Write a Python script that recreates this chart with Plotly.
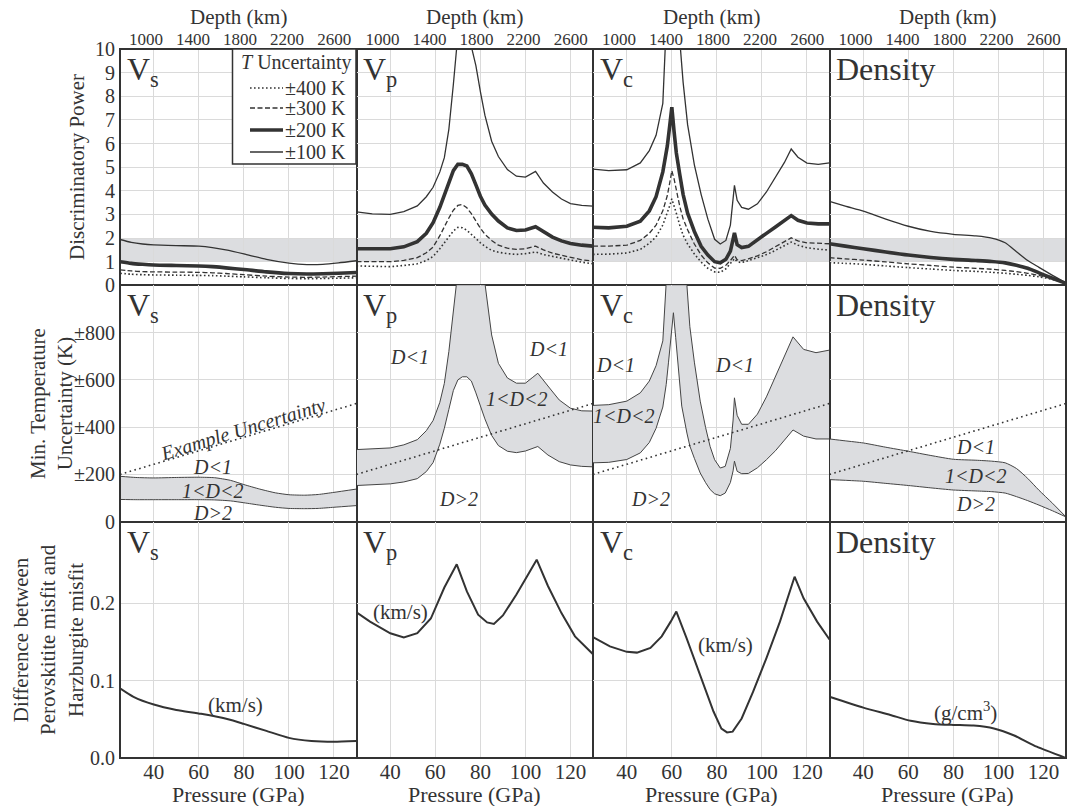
import plotly.graph_objects as go
from plotly.subplots import make_subplots

# ---------------- data ----------------
P_TICKS = [40, 60, 80, 100, 120]
DEPTH_TICKS = [1000, 1400, 1800, 2200, 2600]
T_LEGEND = ["±400 K", "±300 K", "±200 K", "±100 K"]

# Top row: discriminatory power
P_VS_TOP = [25, 30, 35, 40, 50, 60, 66, 72, 80, 90, 100, 108, 115, 122, 130]
DP_VS_100 = [1.94, 1.82, 1.75, 1.71, 1.68, 1.66, 1.60, 1.50, 1.33, 1.10, 0.94, 0.88, 0.89, 0.95, 1.04]
DP_VS_200 = [1.00, 0.93, 0.89, 0.86, 0.84, 0.82, 0.79, 0.74, 0.67, 0.57, 0.50, 0.48, 0.49, 0.51, 0.54]
DP_VS_300 = [0.65, 0.61, 0.58, 0.57, 0.56, 0.55, 0.53, 0.50, 0.45, 0.39, 0.35, 0.34, 0.35, 0.37, 0.39]
DP_VS_400 = [0.51, 0.47, 0.45, 0.44, 0.43, 0.42, 0.41, 0.39, 0.36, 0.32, 0.29, 0.28, 0.29, 0.30, 0.32]

P_VP_TOP = [25, 32, 40, 46, 52, 56, 59, 62, 64, 66, 68, 70, 72, 74, 76, 78, 80, 82, 85, 88, 92, 96, 100, 104.5, 108, 112, 116, 120, 125, 130]
DP_VP_100 = [3.11, 3.02, 3.00, 3.12, 3.36, 3.75, 4.15, 4.80, 5.40, 6.60, 8.50, 10.6, 11.2, 10.9, 10.1, 9.3, 8.2, 7.2, 6.1, 5.45, 4.90, 4.62, 4.58, 4.82, 4.33, 3.95, 3.65, 3.46, 3.38, 3.35]
DP_VP_200 = [1.55, 1.54, 1.55, 1.63, 1.85, 2.20, 2.65, 3.30, 3.85, 4.35, 4.85, 5.12, 5.12, 5.05, 4.72, 4.25, 3.77, 3.40, 3.02, 2.72, 2.43, 2.32, 2.34, 2.48, 2.27, 2.04, 1.88, 1.77, 1.70, 1.66]
DP_VP_300 = [1.00, 0.99, 1.00, 1.06, 1.17, 1.38, 1.62, 2.10, 2.50, 2.85, 3.18, 3.38, 3.42, 3.28, 3.03, 2.70, 2.42, 2.16, 1.90, 1.70, 1.57, 1.52, 1.55, 1.66, 1.50, 1.36, 1.27, 1.17, 1.08, 1.03]
DP_VP_400 = [0.82, 0.80, 0.79, 0.84, 0.91, 1.05, 1.22, 1.55, 1.80, 2.05, 2.30, 2.45, 2.44, 2.33, 2.17, 1.98, 1.80, 1.65, 1.48, 1.40, 1.34, 1.31, 1.34, 1.41, 1.30, 1.22, 1.14, 1.07, 0.98, 0.91]

P_VC_TOP = [25, 32, 40, 46, 50, 53, 56, 58, 59, 60, 61, 62, 63.5, 65, 67, 70, 73, 76, 79, 81.5, 84, 86, 87.2, 87.8, 89, 91, 94, 98, 102, 106, 110, 113, 116, 120, 125, 130]
DP_VC_100 = [4.92, 4.85, 4.89, 5.18, 5.70, 6.35, 7.70, 11.0, 14.0, 16.5, 16.0, 13.5, 10.4, 8.6, 6.8, 5.1, 3.85, 2.80, 1.95, 1.75, 1.90, 2.55, 3.60, 4.23, 3.60, 3.30, 3.22, 3.45, 3.95, 4.55, 5.20, 5.77, 5.42, 5.17, 5.12, 5.18]
DP_VC_200 = [2.46, 2.43, 2.50, 2.71, 3.15, 3.75, 4.80, 5.90, 6.70, 7.54, 6.50, 5.60, 4.70, 3.85, 3.05, 2.28, 1.65, 1.28, 1.00, 0.95, 1.10, 1.45, 1.95, 2.22, 1.72, 1.60, 1.65, 1.94, 2.20, 2.47, 2.75, 2.95, 2.75, 2.64, 2.60, 2.60]
DP_VC_300 = [1.66, 1.66, 1.70, 1.90, 2.20, 2.55, 3.15, 3.80, 4.30, 4.85, 4.50, 4.00, 3.35, 2.82, 2.35, 1.75, 1.28, 0.95, 0.73, 0.72, 0.85, 1.05, 1.22, 1.27, 1.08, 1.05, 1.12, 1.25, 1.42, 1.62, 1.85, 2.01, 1.88, 1.80, 1.77, 1.76]
DP_VC_400 = [1.31, 1.32, 1.37, 1.52, 1.78, 2.05, 2.55, 3.05, 3.35, 3.66, 3.40, 3.05, 2.55, 2.12, 1.75, 1.33, 0.98, 0.72, 0.57, 0.55, 0.70, 0.92, 1.08, 1.13, 1.00, 0.96, 1.05, 1.17, 1.30, 1.48, 1.66, 1.83, 1.70, 1.59, 1.53, 1.49]

P_RHO_TOP = [25, 32, 40, 50, 60, 70, 80, 90, 97, 103, 108, 113, 118, 124, 130]
DP_RHO_100 = [3.55, 3.35, 3.14, 2.80, 2.50, 2.28, 2.16, 2.09, 2.00, 1.80, 1.42, 1.05, 0.76, 0.42, 0.10]
DP_RHO_200 = [1.76, 1.66, 1.55, 1.41, 1.28, 1.18, 1.10, 1.05, 1.01, 0.95, 0.85, 0.72, 0.53, 0.30, 0.08]
DP_RHO_300 = [1.17, 1.12, 1.07, 0.99, 0.91, 0.84, 0.77, 0.72, 0.68, 0.63, 0.58, 0.51, 0.42, 0.28, 0.10]
DP_RHO_400 = [0.96, 0.93, 0.89, 0.82, 0.75, 0.69, 0.63, 0.59, 0.55, 0.51, 0.47, 0.42, 0.36, 0.25, 0.10]

# Middle row: minimum temperature uncertainty (K) for D = 1 and D = 2
P_VS_MID = [25, 32, 40, 50, 60, 67, 74, 80, 87, 94, 100, 107, 113, 120, 130]
TU_VS_D1 = [192, 187, 185, 187, 188, 186, 175, 157, 138, 122, 114, 112, 115, 124, 138]
TU_VS_D2 = [94, 93, 93, 93, 93, 92, 88, 80, 70, 61, 56, 55, 56, 61, 68]

P_VP_MID = [25, 32, 40, 46, 52, 56, 59, 62, 64, 66, 68, 70, 72, 74, 76, 78, 80, 82, 85, 88, 92, 96, 100, 103, 105.5, 110, 115, 120, 125, 130]
TU_VP_D1 = [305, 308, 312, 325, 347, 385, 428, 505, 585, 720, 880, 1060, 1150, 1180, 1170, 1130, 1080, 1010, 790, 670, 608, 586, 586, 609, 628, 574, 515, 480, 469, 468]
TU_VP_D2 = [153, 156, 160, 168, 182, 212, 250, 328, 395, 475, 555, 600, 613, 613, 595, 545, 488, 435, 365, 322, 298, 292, 299, 308, 318, 282, 254, 240, 234, 232]

P_VC_MID = [25, 32, 40, 46, 50, 53, 56, 57.5, 58.5, 59.5, 60.7, 61.7, 62.7, 64.4, 66.7, 68, 70, 72.6, 75, 77, 79, 81.5, 83.7, 86, 87.2, 87.8, 89, 91, 94, 98, 102, 106, 110, 113.8, 118.5, 124, 130]
TU_VC_D1 = [492, 495, 510, 545, 595, 660, 765, 1000, 1250, 1500, 1700, 1700, 1550, 1250, 1000, 825, 675, 510, 398, 318, 262, 227, 234, 310, 430, 524, 450, 412, 412, 455, 528, 612, 700, 782, 729, 715, 726]
TU_VC_D2 = [249, 251, 263, 291, 335, 395, 485, 580, 672, 770, 884, 780, 680, 489, 375, 320, 268, 206, 165, 136, 118, 110, 121, 166, 215, 256, 213, 203, 204, 228, 262, 300, 345, 388, 362, 350, 350]

P_RHO_MID = [25, 32, 40, 50, 60, 70, 80, 90, 97, 103, 108, 113, 118, 124, 130]
TU_RHO_D1 = [350, 342, 333, 315, 298, 280, 264, 260, 256, 249, 225, 183, 133, 78, 20]
TU_RHO_D2 = [178, 175, 171, 162, 153, 143, 134, 130, 127, 121, 106, 89, 70, 46, 20]

EX_P = [25, 130]
EX_T = [200, 500]

# Bottom row: misfit difference
P_VS_BOT = [25, 31, 40, 50, 61, 73, 80, 90, 100, 110, 120, 130]
MF_VS = [0.090, 0.079, 0.069, 0.062, 0.057, 0.050, 0.044, 0.035, 0.026, 0.022, 0.021, 0.022]
P_VP_BOT = [25, 31, 40, 46, 52, 58, 64, 69.5, 74, 79, 83, 86, 90, 96, 101, 105, 110, 116, 122, 130]
MF_VP = [0.188, 0.176, 0.161, 0.1555, 0.161, 0.180, 0.220, 0.250, 0.215, 0.185, 0.175, 0.173, 0.184, 0.211, 0.236, 0.256, 0.222, 0.187, 0.157, 0.134]
P_VC_BOT = [25, 32.5, 40, 44.5, 50.5, 55.5, 59.5, 62, 66.5, 72.5, 78.5, 82, 84.5, 87, 91, 96, 102, 108, 114.5, 118.5, 124.5, 130]
MF_VC = [0.156, 0.144, 0.137, 0.136, 0.142, 0.157, 0.176, 0.189, 0.155, 0.107, 0.060, 0.038, 0.033, 0.034, 0.051, 0.085, 0.129, 0.176, 0.234, 0.206, 0.176, 0.153]
P_RHO_BOT = [25, 40, 52, 61, 71, 80, 89, 98, 107, 117, 130]
MF_RHO = [0.079, 0.065, 0.0556, 0.048, 0.044, 0.0427, 0.0418, 0.038, 0.029, 0.0146, 0.0]

PANEL_LABELS = ["V<sub>s</sub>", "V<sub>p</sub>", "V<sub>c</sub>", "Density"]
UNIT_LABELS = ["(km/s)", "(km/s)", "(km/s)", "(g/cm<sup>3</sup>)"]

# ---------------- styling ----------------
FONT = "Liberation Serif, Times New Roman, Times, serif"
INK = "#333333"
GRID = "#dadada"
BAND = "#dcdde0"

# plot area in pixels: x 120..1066, y 49..758
def px_x(x):
    return (x - 120) / 946.0

def px_y(y):
    return (758 - y) / 709.0

fig = make_subplots(rows=3, cols=4, horizontal_spacing=0, vertical_spacing=0)

top_sets = [
    (P_VS_TOP, [DP_VS_400, DP_VS_300, DP_VS_200, DP_VS_100], "spline"),
    (P_VP_TOP, [DP_VP_400, DP_VP_300, DP_VP_200, DP_VP_100], "linear"),
    (P_VC_TOP, [DP_VC_400, DP_VC_300, DP_VC_200, DP_VC_100], "linear"),
    (P_RHO_TOP, [DP_RHO_400, DP_RHO_300, DP_RHO_200, DP_RHO_100], "spline"),
]
line_styles = [
    dict(color=INK, width=1.6, dash="1.6px,2.4px"),
    dict(color=INK, width=1.3, dash="5px,2.5px"),
    dict(color=INK, width=3.6),
    dict(color=INK, width=1.3),
]
for c, (px, series, shape) in enumerate(top_sets, start=1):
    for k, ys in enumerate(series):
        fig.add_trace(go.Scatter(x=px, y=ys, mode="lines", name=T_LEGEND[k],
                                 line=dict(shape=shape, smoothing=0.6, **line_styles[k]),
                                 showlegend=False, hoverinfo="skip"), row=1, col=c)

mid_sets = [
    (P_VS_MID, TU_VS_D1, TU_VS_D2, "spline"),
    (P_VP_MID, TU_VP_D1, TU_VP_D2, "linear"),
    (P_VC_MID, TU_VC_D1, TU_VC_D2, "linear"),
    (P_RHO_MID, TU_RHO_D1, TU_RHO_D2, "spline"),
]
for c, (px, up, lo, shape) in enumerate(mid_sets, start=1):
    fig.add_trace(go.Scatter(x=px, y=lo, mode="lines",
                             line=dict(color="#444444", width=1, shape=shape, smoothing=0.6),
                             showlegend=False, hoverinfo="skip"), row=2, col=c)
    fig.add_trace(go.Scatter(x=px, y=up, mode="lines", fill="tonexty", fillcolor=BAND,
                             line=dict(color="#444444", width=1, shape=shape, smoothing=0.6),
                             showlegend=False, hoverinfo="skip"), row=2, col=c)
    fig.add_trace(go.Scatter(x=EX_P, y=EX_T, mode="lines",
                             line=dict(color=INK, width=1.6, dash="1.6px,3.4px"),
                             showlegend=False, hoverinfo="skip"), row=2, col=c)

bot_sets = [
    (P_VS_BOT, MF_VS, "spline"),
    (P_VP_BOT, MF_VP, "linear"),
    (P_VC_BOT, MF_VC, "linear"),
    (P_RHO_BOT, MF_RHO, "spline"),
]
for c, (px, ys, shape) in enumerate(bot_sets, start=1):
    fig.add_trace(go.Scatter(x=px, y=ys, mode="lines",
                             line=dict(color=INK, width=2, shape=shape, smoothing=0.6),
                             showlegend=False, hoverinfo="skip"), row=3, col=c)

# axes
for r in (1, 2, 3):
    for c in (1, 2, 3, 4):
        fig.update_xaxes(range=[25, 130], tickvals=P_TICKS, showticklabels=(r == 3),
                         showgrid=True, gridcolor=GRID, gridwidth=1, zeroline=False,
                         showline=True, mirror=True, linecolor=INK, linewidth=1.1, ticks="",
                         ticklabelstandoff=-5,
                         tickfont=dict(size=21, color=INK, family=FONT), row=r, col=c)
        common_y = dict(showgrid=True, gridcolor=GRID, gridwidth=1, zeroline=False,
                        showline=True, mirror=True, linecolor=INK, linewidth=1.1, ticks="",
                        showticklabels=(c == 1), tickfont=dict(size=20, color=INK, family=FONT))
        if r == 1:
            fig.update_yaxes(range=[0, 10], tickvals=list(range(0, 11)), row=r, col=c, **common_y)
        elif r == 2:
            fig.update_yaxes(range=[0, 1000], tickvals=[0, 200, 400, 600, 800],
                             ticktext=["0", "±200", "±400", "±600", "±800"], row=r, col=c, **common_y)
        else:
            fig.update_yaxes(range=[0, 0.305], tickvals=[0, 0.1, 0.2],
                             ticktext=["0.0", "0.1", "0.2"], row=r, col=c, **common_y)

shapes = []
# gray band D between 1 and 2 in top row
for c in (1, 2, 3, 4):
    xr = "x" if c == 1 else f"x{c}"
    yr = "y" if c == 1 else f"y{c}"
    shapes.append(dict(type="rect", xref=f"{xr} domain", yref=yr, x0=0, x1=1, y0=1, y1=2,
                       fillcolor=BAND, line_width=0, layer="below"))
# outer frame
shapes.append(dict(type="rect", xref="paper", yref="paper", x0=0, x1=1, y0=0, y1=1,
                   line=dict(color=INK, width=2), fillcolor="rgba(0,0,0,0)", layer="above"))

# depth axes on top
for c in (1, 2, 3, 4):
    base = "x" if c == 1 else f"x{c}"
    yb = "y" if c == 1 else f"y{c}"
    n = 12 + c
    fig.update_layout(**{f"xaxis{n}": dict(overlaying=base, side="top", anchor=yb,
                                           domain=[(c - 1) / 4, c / 4],
                                           range=[780, 2790], tickvals=DEPTH_TICKS, showgrid=False,
                                           zeroline=False, showline=False, ticks="",
                                           tickfont=dict(size=17, color=INK, family=FONT))})
    fig.add_trace(go.Scatter(x=DEPTH_TICKS, y=[None] * len(DEPTH_TICKS), xaxis=f"x{n}", yaxis=yb,
                             mode="lines", showlegend=False, hoverinfo="skip"))

ann = []
# panel labels
for r in (1, 2, 3):
    for c in (1, 2, 3, 4):
        idx = (r - 1) * 4 + c
        xr = "x" if idx == 1 else f"x{idx}"
        yr = "y" if idx == 1 else f"y{idx}"
        ann.append(dict(text=PANEL_LABELS[c - 1], xref=f"{xr} domain", yref=f"{yr} domain",
                        x=0.02, y=1.0, xanchor="left", yanchor="top", showarrow=False,
                        font=dict(size=32, color=INK, family=FONT)))
# axis titles
for c in (1, 2, 3, 4):
    ann.append(dict(text="Depth (km)", xref="paper", yref="paper", x=(c - 0.5) / 4, y=px_y(17),
                    xanchor="center", yanchor="middle", showarrow=False,
                    font=dict(size=21, color=INK, family=FONT)))
    ann.append(dict(text="Pressure (GPa)", xref="paper", yref="paper", x=(c - 0.5) / 4, y=px_y(794),
                    xanchor="center", yanchor="middle", showarrow=False,
                    font=dict(size=22, color=INK, family=FONT)))
ann.append(dict(text="Discriminatory Power", xref="paper", yref="paper", x=px_x(77), y=px_y(167),
                textangle=-90, xanchor="center", yanchor="middle", showarrow=False,
                font=dict(size=21, color=INK, family=FONT)))
ann.append(dict(text="Min. Temperature<br>Uncertainty (K)", xref="paper", yref="paper",
                x=px_x(51), y=px_y(404),
                textangle=-90, xanchor="center", yanchor="middle", showarrow=False,
                font=dict(size=21, color=INK, family=FONT)))
ann.append(dict(text="Difference between<br>Perovskitite misfit and<br>Harzburgite misfit",
                xref="paper", yref="paper", x=px_x(48), y=px_y(640),
                textangle=-90, xanchor="center", yanchor="middle", showarrow=False,
                font=dict(size=21, color=INK, family=FONT)))

# middle row text
mid_text = [
    (5, "<i>Example Uncertainty</i>", 79.4, 392, -17),
    (5, "<i>D&lt;1</i>", 66.1, 233, 0),
    (5, "<i>1&lt;D&lt;2</i>", 66.1, 131, 0),
    (5, "<i>D&gt;2</i>", 66.1, 38, 0),
    (6, "<i>D&lt;1</i>", 48.6, 695, 0),
    (6, "<i>D&lt;1</i>", 110.3, 729, 0),
    (6, "<i>1&lt;D&lt;2</i>", 96.1, 517, 0),
    (6, "<i>D&gt;2</i>", 70.3, 97, 0),
    (7, "<i>D&lt;1</i>", 35.0, 665, 0),
    (7, "<i>D&lt;1</i>", 87.9, 665, 0),
    (7, "<i>1&lt;D&lt;2</i>", 38.6, 449, 0),
    (7, "<i>D&gt;2</i>", 50.6, 97, 0),
    (8, "<i>D&lt;1</i>", 89.9, 318, 0),
    (8, "<i>1&lt;D&lt;2</i>", 89.9, 195, 0),
    (8, "<i>D&gt;2</i>", 89.9, 76, 0),
]
for idx, t, x, y, ang in mid_text:
    ann.append(dict(text=t, xref=f"x{idx}", yref=f"y{idx}", x=x, y=y, textangle=ang,
                    xanchor="center", yanchor="middle", showarrow=False,
                    font=dict(size=20, color=INK, family=FONT)))
unit_pos = [(76.3, 0.0685), (44.6, 0.189), (83.9, 0.146), (85.4, 0.0594)]
for c, (x, y) in enumerate(unit_pos, start=1):
    idx = 8 + c
    ann.append(dict(text=UNIT_LABELS[c - 1], xref=f"x{idx}", yref=f"y{idx}", x=x, y=y,
                    xanchor="center", yanchor="middle", showarrow=False,
                    font=dict(size=21, color=INK, family=FONT)))

# hand-drawn legend box in the Vs discriminatory-power panel
shapes.append(dict(type="rect", xref="paper", yref="paper", x0=px_x(232.5), x1=px_x(356),
                   y0=px_y(164), y1=px_y(49), fillcolor="white",
                   line=dict(color=INK, width=1.5), layer="above"))
ann.append(dict(text="<i>T</i> Uncertainty", xref="paper", yref="paper", x=px_x(296), y=px_y(63),
                xanchor="center", yanchor="middle", showarrow=False,
                font=dict(size=20, color=INK, family=FONT)))
leg_rows = [88, 108, 130, 152]
for k, yy in enumerate(leg_rows):
    st = line_styles[k]
    shapes.append(dict(type="line", xref="paper", yref="paper", x0=px_x(250), x1=px_x(283),
                       y0=px_y(yy), y1=px_y(yy),
                       line=dict(color=st["color"], width=st["width"], dash=st.get("dash", "solid")),
                       layer="above"))
    ann.append(dict(text=T_LEGEND[k], xref="paper", yref="paper", x=px_x(283), y=px_y(yy),
                    xanchor="left", yanchor="middle", showarrow=False,
                    font=dict(size=20, color=INK, family=FONT)))

fig.update_layout(
    width=1067, height=806, autosize=False,
    margin=dict(l=120, r=1, t=49, b=48),
    paper_bgcolor="white", plot_bgcolor="white",
    font=dict(family=FONT, color=INK),
    annotations=ann,
    shapes=shapes,
    showlegend=False,
)

fig.write_html("out.html")
